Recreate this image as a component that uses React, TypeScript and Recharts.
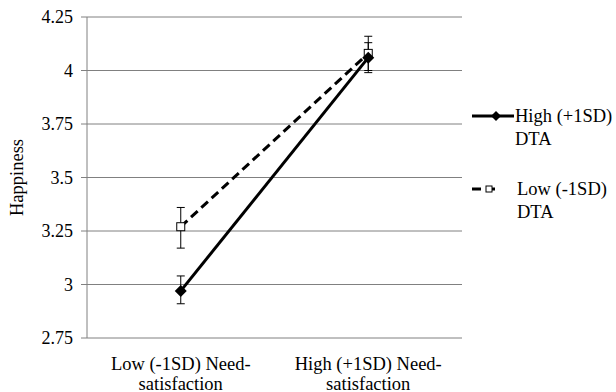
import React from 'react';
import { ComposedChart, Line, XAxis, YAxis, CartesianGrid, ErrorBar } from 'recharts';

// x categories (two text lines each, as in the figure)
const categories = ['Low (-1SD) Need-satisfaction', 'High (+1SD) Need-satisfaction'];
const categoryLines = [
  ['Low (-1SD) Need-', 'satisfaction'],
  ['High (+1SD) Need-', 'satisfaction'],
];

// High (+1SD) DTA - solid line, diamond markers
const highDtaMean = [2.97, 4.06];
const highDtaLower = [2.91, 3.99];
const highDtaUpper = [3.04, 4.13];

// Low (-1SD) DTA - dashed line, open square markers
const lowDtaMean = [3.27, 4.08];
const lowDtaLower = [3.17, 4.0];
const lowDtaUpper = [3.36, 4.16];

const yTicks = [2.75, 3, 3.25, 3.5, 3.75, 4, 4.25];
const seriesNames = ['High (+1SD) DTA', 'Low (-1SD) DTA'];

const FONT = 'Liberation Serif';
const GRID = '#808080';

const data = categories.map((cat, i) => ({
  cat,
  high: highDtaMean[i],
  highErr: [highDtaMean[i] - highDtaLower[i], highDtaUpper[i] - highDtaMean[i]],
  low: lowDtaMean[i],
  lowErr: [lowDtaMean[i] - lowDtaLower[i], lowDtaUpper[i] - lowDtaMean[i]],
}));

const DiamondDot = (props: any) => {
  const { cx, cy } = props;
  if (cx == null || cy == null) return null;
  return <polygon points={`${cx},${cy - 6} ${cx + 6},${cy} ${cx},${cy + 6} ${cx - 6},${cy}`} fill="#000" />;
};

const SquareDot = (props: any) => {
  const { cx, cy } = props;
  if (cx == null || cy == null) return null;
  return <rect x={cx - 4} y={cy - 4} width={8} height={8} fill="#fff" stroke="#000" strokeWidth={1} />;
};

const CategoryTick = (props: any) => {
  const { x, y, index } = props;
  const lines = categoryLines[index] || [];
  return (
    <text x={x} y={y} textAnchor="middle" fontFamily={FONT} style={{ fontFamily: FONT }} fontSize={18.5} fill="#000">
      {lines.map((l, i) => (
        <tspan key={i} x={x} dy={i === 0 ? 30 : 19.5}>{l}</tspan>
      ))}
    </text>
  );
};

const YLabel = (props: any) => {
  const { viewBox } = props;
  const cy = viewBox.y + viewBox.height / 2;
  return (
    <text transform={`translate(23, ${cy}) rotate(-90)`} textAnchor="middle" fontFamily={FONT} style={{ fontFamily: FONT }} fontSize={18.5} fill="#000">
      Happiness
    </text>
  );
};

const LegendBox = () => (
  <svg width={150} height={130} style={{ position: 'absolute', left: 466, top: 100 }}>
    <g fontFamily={FONT} style={{ fontFamily: FONT }} fontSize={18.5} fill="#000">
      {/* solid entry */}
      <line x1={6} y1={16} x2={48} y2={16} stroke="#000" strokeWidth={3} />
      <polygon points="30,11 35,16 30,21 25,16" fill="#000" />
      <text x={49} y={22}>{seriesNames[0].replace(' DTA', '')}</text>
      <text x={49} y={45}>DTA</text>
      {/* dashed entry */}
      <line x1={6} y1={89} x2={31} y2={89} stroke="#000" strokeWidth={3} strokeDasharray="9 5" />
      <rect x={20} y={86} width={6} height={6} fill="#fff" stroke="#000" strokeWidth={1} />
      <text x={51} y={95}>{seriesNames[1].replace(' DTA', '')}</text>
      <text x={51} y={118}>DTA</text>
    </g>
  </svg>
);

export default function App() {
  return (
    <div style={{ position: 'absolute', left: 0, top: 0, width: 616, height: 392, background: '#fff', fontFamily: FONT }}>
      <ComposedChart width={616} height={392} data={data} margin={{ top: 17, right: 154, left: 0, bottom: 0 }}>
        <CartesianGrid vertical={false} stroke={GRID} strokeWidth={1} />
        <XAxis
          xAxisId="edges"
          type="number"
          domain={[0, 2]}
          ticks={[0, 1, 2]}
          height={0}
          axisLine={{ stroke: GRID }}
          tickLine={{ stroke: GRID }}
          tickSize={7}
          tickFormatter={() => ''}
          allowDataOverflow
        />
        <XAxis
          dataKey="cat"
          scale="band"
          height={54}
          axisLine={false}
          tickLine={false}
          tickSize={0}
          interval={0}
          tick={<CategoryTick />}
        />
        <YAxis
          width={87}
          domain={[2.75, 4.25]}
          ticks={yTicks}
          axisLine={{ stroke: GRID }}
          tickLine={{ stroke: GRID }}
          tickSize={6}
          tickMargin={8}
          tick={{ fontFamily: FONT, style: { fontFamily: FONT }, fontSize: 18, fill: '#000' }}
          interval={0}
          label={{ content: <YLabel /> }}
        />
        <YAxis
          yAxisId="r"
          orientation="right"
          width={0}
          domain={[2.75, 4.25]}
          tick={false}
          tickLine={false}
          axisLine={{ stroke: GRID }}
        />
        <Line
          dataKey="low"
          name={seriesNames[1]}
          stroke="#000"
          strokeWidth={3}
          strokeDasharray="9 5"
          dot={<SquareDot />}
          activeDot={false}
          isAnimationActive={false}
        >
          <ErrorBar dataKey="lowErr" direction="y" width={4} stroke="#000" strokeWidth={1} isAnimationActive={false} />
        </Line>
        <Line
          dataKey="high"
          name={seriesNames[0]}
          stroke="#000"
          strokeWidth={3}
          dot={<DiamondDot />}
          activeDot={false}
          isAnimationActive={false}
        >
          <ErrorBar dataKey="highErr" direction="y" width={4} stroke="#000" strokeWidth={1} isAnimationActive={false} />
        </Line>
      </ComposedChart>
      <LegendBox />
    </div>
  );
}
